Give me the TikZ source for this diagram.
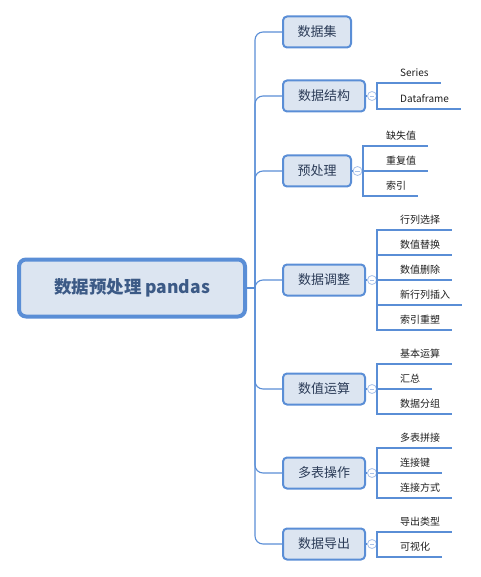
\documentclass[tikz,border=0pt]{standalone}
\usepackage{fontspec}
\setmainfont{Noto Sans CJK SC}
\definecolor{lb}{HTML}{5A8ED6}
\definecolor{bfill}{HTML}{DCE5F1}
\definecolor{ttext}{HTML}{2B3B57}
\definecolor{rtext}{HTML}{3C5A86}
\definecolor{circ}{HTML}{A9C1E8}
\definecolor{ltext}{HTML}{1E1E1E}
\begin{document}
\begin{tikzpicture}[x=1pt,y=-1pt,
  rootbox/.style={draw=lb, line width=4pt, fill=bfill, rounded corners=7pt, minimum width=226pt, minimum height=57pt, font=\fontsize{17.5}{20}\selectfont\bfseries, text=rtext, inner sep=0pt},
  topic/.style={draw=lb, line width=2pt, fill=bfill, rounded corners=4pt, minimum height=31pt, font=\fontsize{13}{15}\selectfont, text=ttext, inner sep=0pt, anchor=west},
  topic3/.style={topic, minimum width=68pt},
  topic4/.style={topic, minimum width=82pt},
  leaf/.style={font=\fontsize{10}{12}\selectfont, text=ltext, inner xsep=12pt, inner ysep=0pt, text height=8pt, text depth=6.5pt, anchor=south west},
  uline/.style={draw=lb, line width=2.6pt},
  conn/.style={draw=lb, line width=1.1pt},
  toggle/.style={circle, draw=circ, line width=0.8pt, fill=white, minimum size=9pt, inner sep=0pt,
    path picture={\draw[circ, line width=0.8pt] ([xshift=-2.3pt]path picture bounding box.center) -- ([xshift=2.3pt]path picture bounding box.center);}},
]
\useasboundingbox (0,0) rectangle (480,577);

% root
\node[rootbox] (root) at (132,288) {数据预处理 pandas};
\coordinate (trunk) at (255,288);

% topics
\node[topic3] (b1) at (282,32) {数据集};
\node[topic4] (b2) at (282,96) {数据结构};
\node[topic3] (b3) at (282,171) {预处理};
\node[topic4] (b4) at (282,280) {数据调整};
\node[topic4] (b5) at (282,389) {数值运算};
\node[topic4] (b6) at (282,473) {多表操作};
\node[topic4] (b7) at (282,544) {数据导出};

\draw[conn] (root.east) -- (trunk);
\foreach \b in {b1,b2,b3,b4,b5,b6,b7}{
  \draw[conn, rounded corners=8pt] (trunk) |- (\b.west);
}

% toggles and junctions
\node[toggle] (o2) at (372,96) {};
\node[toggle] (o3) at (357.5,171) {};
\node[toggle] (o4) at (372,280) {};
\node[toggle] (o5) at (372,389) {};
\node[toggle] (o6) at (372,473) {};
\node[toggle] (o7) at (372,544) {};
\coordinate (j2) at (377,96);
\coordinate (j3) at (363,171);
\coordinate (j4) at (377,280);
\coordinate (j5) at (377,389);
\coordinate (j6) at (377,473);
\coordinate (j7) at (377,544);
\foreach \i in {2,...,7}{
  \draw[conn] (b\i.east) -- (o\i.west);
  \draw[conn] (o\i.east) -- (j\i);
}

% leaves
\node[leaf] (c21) at (388,83) {Series};
\node[leaf] (c22) at (388,109) {Dataframe};

\node[leaf] (c31) at (374,146) {缺失值};
\node[leaf] (c32) at (374,171) {重复值};
\node[leaf] (c33) at (374,196) {索引};

\node[leaf] (c41) at (388,230) {行列选择};
\node[leaf] (c42) at (388,255) {数值替换};
\node[leaf] (c43) at (388,280) {数值删除};
\node[leaf] (c44) at (388,305) {新行列插入};
\node[leaf] (c45) at (388,330) {索引重塑};

\node[leaf] (c51) at (388,364) {基本运算};
\node[leaf] (c52) at (388,389) {汇总};
\node[leaf] (c53) at (388,414) {数据分组};

\node[leaf] (c61) at (388,448) {多表拼接};
\node[leaf] (c62) at (388,473) {连接键};
\node[leaf] (c63) at (388,498) {连接方式};

\node[leaf] (c71) at (388,532) {导出类型};
\node[leaf] (c72) at (388,557) {可视化};

\foreach \j/\c in {j2/c21,j2/c22,j3/c31,j3/c32,j3/c33,j4/c41,j4/c42,j4/c43,j4/c44,j4/c45,j5/c51,j5/c52,j5/c53,j6/c61,j6/c62,j6/c63,j7/c71,j7/c72}{
  \draw[conn] (\j) |- (\c.south west);
  \draw[uline] (\c.south west) -- (\c.south east);
}
\end{tikzpicture}
\end{document}
